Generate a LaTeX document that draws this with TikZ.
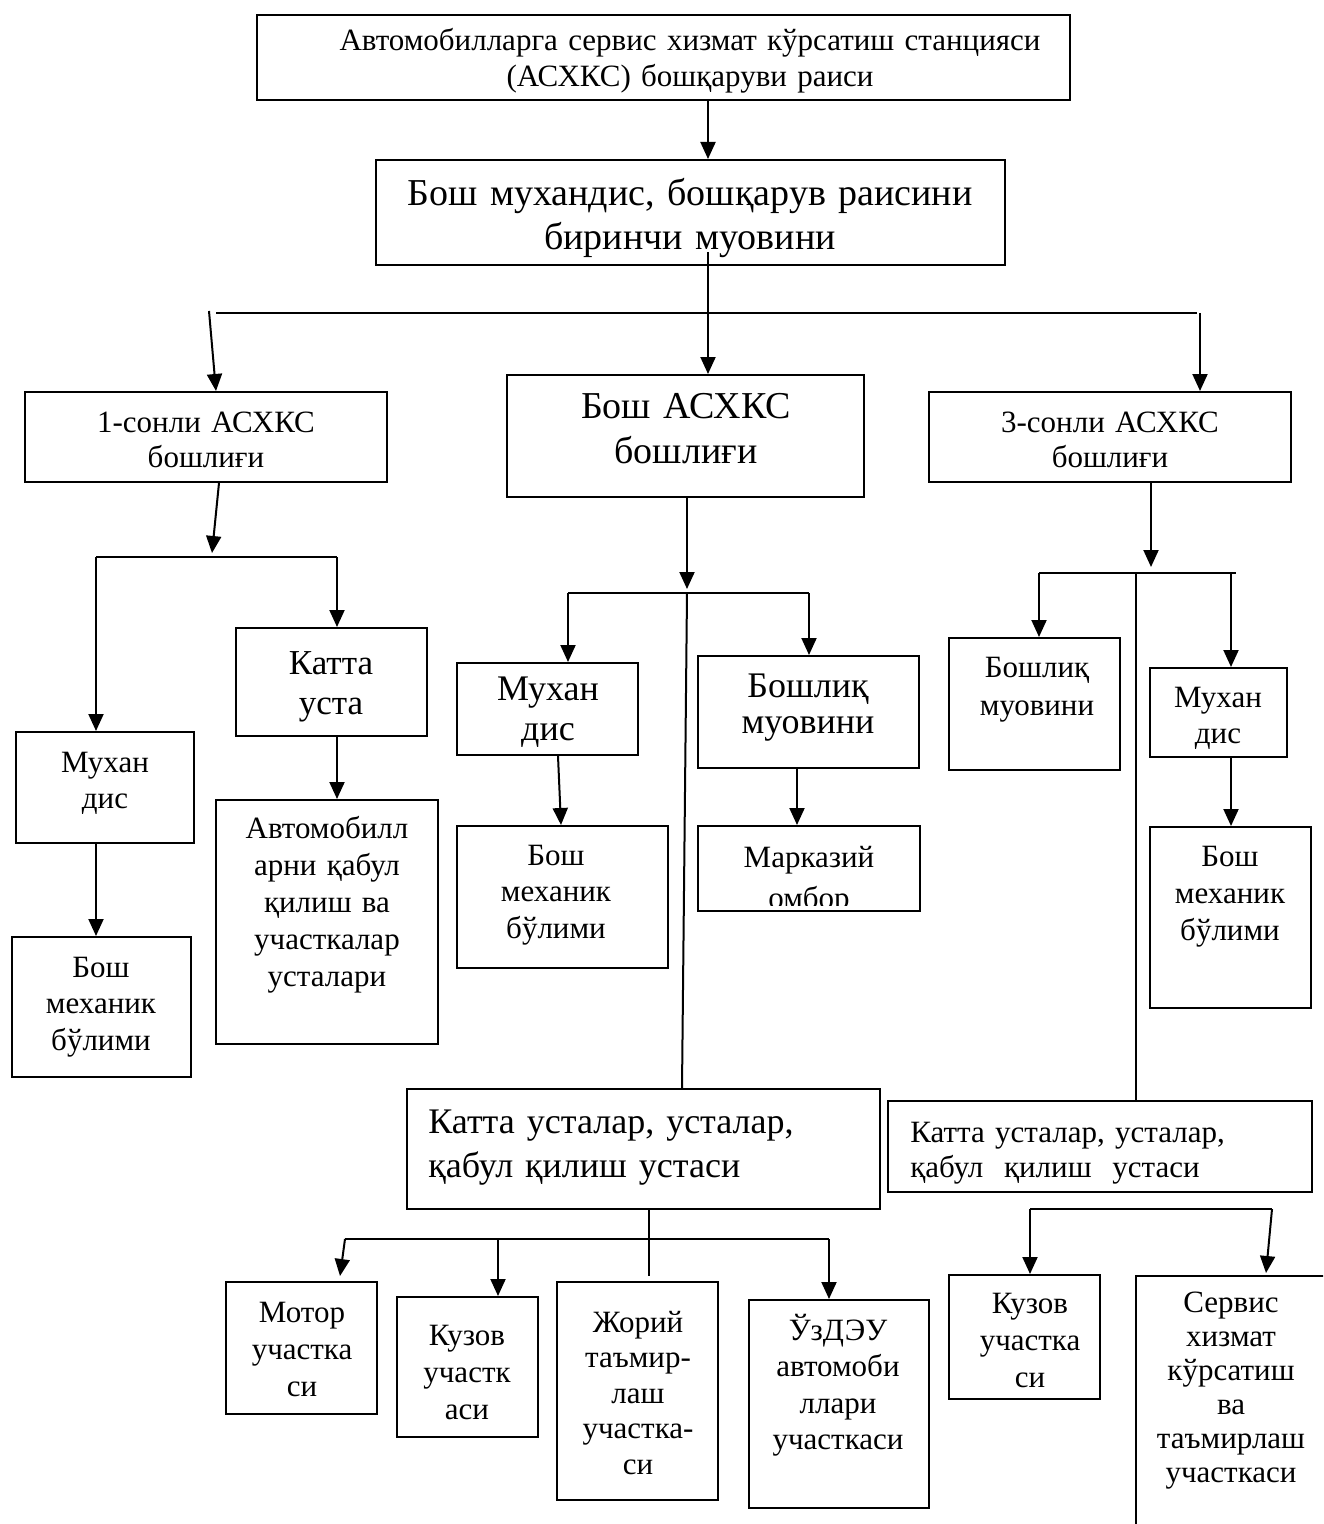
\documentclass[tikz,border=0pt]{standalone}
\usepackage{fontspec}
\setmainfont{Liberation Serif}
\usetikzlibrary{arrows.meta,fit,calc}
\newcommand\fS{\fontsize{15.5}{18}\selectfont}
\newcommand\fL{\fontsize{18}{22}\selectfont}
\tikzset{
  box/.style={draw, line width=1pt, inner sep=0pt},
  conn/.style={line width=1pt},
  arr/.style={conn, -{Triangle[width=7.5pt,length=8.5pt]}},
  txt/.style={inner sep=0pt, anchor=base, align=center, text width=#1},
  ltxt/.style={inner sep=0pt, anchor=base west, align=left, text width=#1},
}
\begin{document}
\begin{tikzpicture}[x=0.5pt,y=-0.5pt]
\useasboundingbox (0,0) rectangle (1323,1524);
\clip (0,0) rectangle (1323,1524);
% boxes
\node[box, fit={(257,15) (1070,100)}] (top) {};
\node[box, fit={(376,160) (1005,265)}] (b2) {};
\node[box, fit={(25,392) (387,482)}] (s1) {};
\node[box, fit={(507,375) (864,497)}] (s0) {};
\node[box, fit={(929,392) (1291,482)}] (s3) {};
\node[box, fit={(16,732) (194,843)}] (lmuh) {};
\node[box, fit={(236,628) (427,736)}] (lkatta) {};
\node[box, fit={(12,937) (191,1077)}] (lbosh) {};
\node[box, fit={(216,800) (438,1044)}] (lavto) {};
\node[box, fit={(457,663) (638,755)}] (mmuh) {};
\node[box, fit={(698,656) (919,768)}] (mboshliq) {};
\node[box, fit={(457,826) (668,968)}] (mbosh) {};
\node[box, fit={(698,826) (920,911)}] (mmarkaz) {};
\node[box, fit={(949,638) (1120,770)}] (rboshliq) {};
\node[box, fit={(1150,668) (1287,757)}] (rmuh) {};
\node[box, fit={(1150,827) (1311,1008)}] (rbosh) {};
\node[box, fit={(407,1089) (880,1209)}] (mkatta) {};
\node[box, fit={(888,1101) (1312,1192)}] (rkatta) {};
\node[box, fit={(226,1282) (377,1414)}] (motor) {};
\node[box, fit={(397,1297) (538,1437)}] (kuzova) {};
\node[box, fit={(557,1282) (718,1500)}] (joriy) {};
\node[box, fit={(749,1300) (929,1508)}] (uzdeu) {};
\node[box, fit={(949,1275) (1100,1399)}] (kuzovb) {};
\node[box, fit={(1136,1276) (1345,1545)}] (servis) {};
% texts
\node[txt=400pt, font=\fS] (t0) at (690,51) {Автомобилларга сервис хизмат кўрсатиш станцияси\\(АСХКС) бошқаруви раиси};
\node[txt=310pt, font=\fontsize{19}{22}\selectfont] (tb2) at (690,206) {Бош мухандис, бошқарув раисини\\биринчи муовини};
\node[txt=175pt, font=\fontsize{15.5}{17.5}\selectfont] (ts1) at (206,432) {1-сонли АСХКС\\бошлиғи};
\node[txt=175pt, font=\fontsize{19}{22.5}\selectfont] (ts0) at (686,418) {Бош АСХКС\\бошлиғи};
\node[txt=175pt, font=\fontsize{15.5}{17.5}\selectfont] (ts3) at (1110,432) {3-сонли АСХКС\\бошлиғи};
\node[txt=85pt, font=\fS] (tlmuh) at (105,772) {Мухан\\дис};
\node[txt=92pt, font=\fontsize{17.5}{20}\selectfont] (tlkatta) at (331,674) {Катта\\уста};
\node[txt=85pt, font=\fontsize{15.5}{18.25}\selectfont] (tlbosh) at (101,977) {Бош\\механик\\бўлими};
\node[txt=108pt, font=\fontsize{15.5}{18.5}\selectfont] (tlavto) at (327,838) {Автомобилл\\арни қабул\\қилиш ва\\участкалар\\усталари};
\node[txt=88pt, font=\fontsize{18}{20}\selectfont] (tmmuh) at (548,700) {Мухан\\дис};
\node[txt=108pt, font=\fontsize{18}{18}\selectfont] (tmboshliq) at (808,697) {Бошлиқ\\муовини};
\node[txt=100pt, font=\fontsize{15.5}{18.25}\selectfont] (tmbosh) at (556,865) {Бош\\механик\\бўлими};
\begin{scope}
\clip (699,827) rectangle (919,905);
\node[txt=108pt, font=\fontsize{15.5}{20.5}\selectfont] (tmarkaz) at (809,867) {Марказий\\омбор};
\end{scope}
\node[txt=83pt, font=\fontsize{15.5}{19}\selectfont] (trboshliq) at (1037,677) {Бошлиқ\\муовини};
\node[txt=66pt, font=\fS] (trmuh) at (1218,707) {Мухан\\дис};
\node[txt=78pt, font=\fontsize{15.5}{18.5}\selectfont] (trbosh) at (1230,866) {Бош\\механик\\бўлими};
\node[ltxt=225pt, font=\fontsize{18}{22}\selectfont] (tmkatta) at (428,1133) {Катта усталар, усталар,\\қабул қилиш устаси};
\node[ltxt=198pt, font=\fontsize{15.5}{17.5}\selectfont] (trkatta) at (910,1142) {Катта усталар, усталар,\\қабул\ \ қилиш\ \ устаси};
\node[txt=74pt, font=\fontsize{15.5}{18.5}\selectfont] (tmotor) at (302,1322) {Мотор\\участка\\си};
\node[txt=70pt, font=\fontsize{15.5}{18.5}\selectfont] (tkuzova) at (467,1345) {Кузов\\участк\\аси};
\node[txt=80pt, font=\fontsize{15.5}{17.75}\selectfont] (tjoriy) at (638,1332) {Жорий\\таъмир-\\лаш\\участка-\\си};
\node[txt=89pt, font=\fontsize{15.5}{18.3}\selectfont] (tuzdeu) at (838,1340) {ЎзДЭУ\\автомоби\\ллари\\участкаси};
\node[txt=74pt, font=\fontsize{15.5}{18.5}\selectfont] (tkuzovb) at (1030,1313) {Кузов\\участка\\си};
\node[txt=90pt, font=\fontsize{15.5}{17}\selectfont] (tservis) at (1231,1312) {Сервис\\хизмат\\кўрсатиш\\ва\\таъмирлаш\\участкаси};
% x-guides
\coordinate (xA) at (708,0);
\coordinate (xB) at (216,0);
\coordinate (xC) at (219,0);
\coordinate (xD) at (96,0);
\coordinate (xE) at (337,0);
\coordinate (xF) at (687,0);
\coordinate (xG) at (568,0);
\coordinate (xH) at (809,0);
\coordinate (xI) at (682,0);
\coordinate (xJ) at (558,0);
\coordinate (xK) at (561,0);
\coordinate (xL) at (797,0);
\coordinate (xM) at (1151,0);
\coordinate (xN) at (1039,0);
\coordinate (xO) at (1231,0);
\coordinate (xP) at (1136,0);
\coordinate (xQ) at (649,0);
\coordinate (xR) at (498,0);
\coordinate (xS) at (829,0);
\coordinate (xT) at (1030,0);
% junction coordinates
\coordinate (b2s) at ($(b2.south -| xA)+(0,-14)$);
\coordinate (h1L) at (216,313);
\coordinate (h1R) at (1197,313);
\coordinate (aL) at (209,311);
\coordinate (aR) at (1200,313);
\coordinate (tipL) at (212,553);
\coordinate (hLa) at (96,557);
\coordinate (hLb) at (337,557);
\coordinate (tipM) at (687,589);
\coordinate (hMa) at (568,593);
\coordinate (hMb) at (809,593);
\coordinate (hMc) at (687,593);
\coordinate (tipR) at (1151,567);
\coordinate (hRa) at (1039,573);
\coordinate (hRb) at (1236,573);
\coordinate (hRc) at (1136,573);
\coordinate (hRd) at (1231,573);
\coordinate (vQ) at (649,1276);
\coordinate (hBa) at (345,1239);
\coordinate (hBb) at (829,1239);
\coordinate (hBc) at (498,1239);
\coordinate (tipMo) at (340,1276);
\coordinate (hCa) at (1030,1209);
\coordinate (hCb) at (1272,1209);
\coordinate (tipSe) at (1266,1273);
% connectors
\draw[arr] (top.south -| xA) -- (b2.north -| xA);
\draw[arr] (b2s) -- (s0.north -| xA);
\draw[conn] (h1L) -- (h1R);
\draw[arr] (aL) -- (s1.north -| xB);
\draw[arr] (aR) -- (s3.north -| aR);
\draw[arr] (s1.south -| xC) -- (tipL);
\draw[conn] (hLa) -- (hLb);
\draw[arr] (hLa) -- (lmuh.north -| xD);
\draw[arr] (hLb) -- (lkatta.north -| xE);
\draw[arr] (lmuh.south -| xD) -- (lbosh.north -| xD);
\draw[arr] (lkatta.south -| xE) -- (lavto.north -| xE);
\draw[arr] (s0.south -| xF) -- (tipM);
\draw[conn] (hMa) -- (hMb);
\draw[arr] (hMa) -- (mmuh.north -| xG);
\draw[arr] (hMb) -- (mboshliq.north -| xH);
\draw[conn] (hMc) -- (mkatta.north -| xI);
\draw[arr] (mmuh.south -| xJ) -- (mbosh.north -| xK);
\draw[arr] (mboshliq.south -| xL) -- (mmarkaz.north -| xL);
\draw[arr] (s3.south -| xM) -- (tipR);
\draw[conn] (hRa) -- (hRb);
\draw[arr] (hRa) -- (rboshliq.north -| xN);
\draw[arr] (hRd) -- (rmuh.north -| xO);
\draw[conn] (hRc) -- (rkatta.north -| xP);
\draw[arr] (rmuh.south -| xO) -- (rbosh.north -| xO);
\draw[conn] (mkatta.south -| xQ) -- (vQ);
\draw[conn] (hBa) -- (hBb);
\draw[arr] (hBa) -- (tipMo);
\draw[arr] (hBc) -- (kuzova.north -| xR);
\draw[arr] (hBb) -- (uzdeu.north -| xS);
\draw[conn] (hCa) -- (hCb);
\draw[arr] (hCa) -- (kuzovb.north -| xT);
\draw[arr] (hCb) -- (tipSe);
\end{tikzpicture}
\end{document}
